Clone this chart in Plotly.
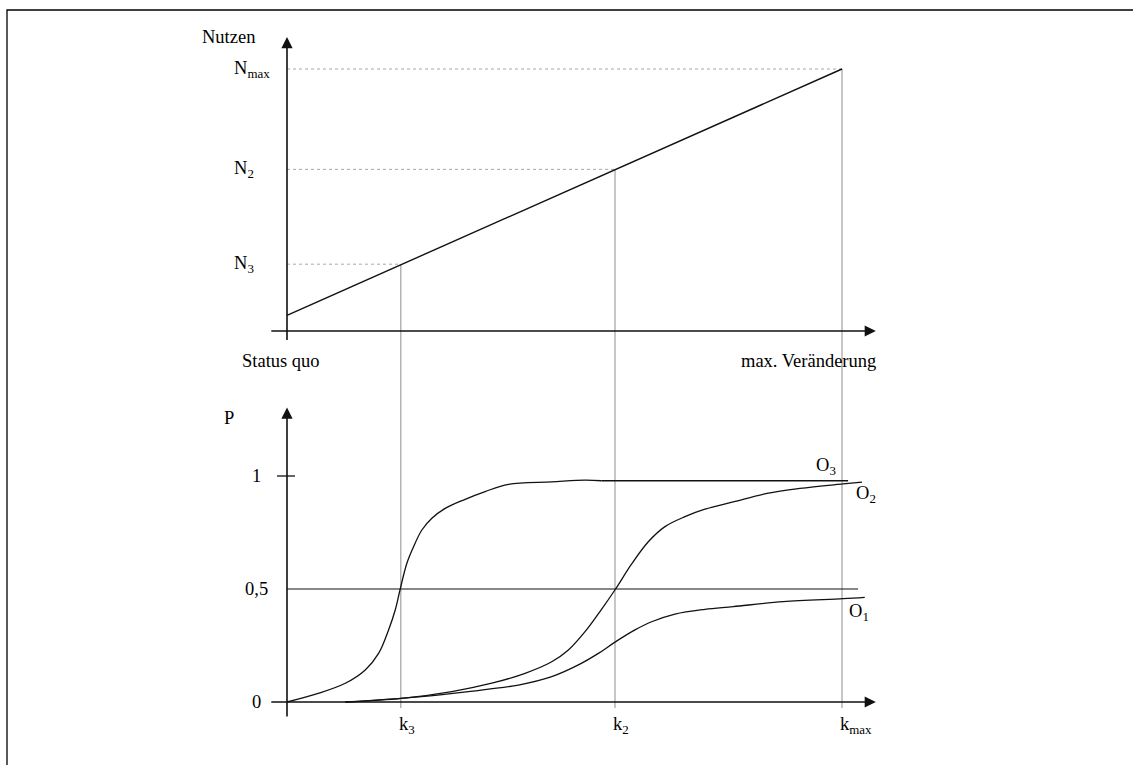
import plotly.graph_objects as go

# ---------------- data ----------------
# x axis: 0 = "Status quo", 1 = k_max ("max. Veränderung")
k_names = ["k<sub>3</sub>", "k<sub>2</sub>", "k<sub>max</sub>"]
k_values = [0.205, 0.591, 1.0]

# upper panel: Nutzen (utility), N_max = 1
n_names = ["N<sub>3</sub>", "N<sub>2</sub>", "N<sub>max</sub>"]
n_values = [0.255, 0.617, 1.0]
nutzen_x = [0.0, 1.0]
nutzen_y = [0.06, 1.0]

# lower panel: probability P
p_ticks = [0, 0.5, 1]
p_tick_labels = ["0", "0,5", "1"]
half_line_x = [0.0, 1.029]
half_line_y = [0.5, 0.5]

o3_x = [0.0, 0.056, 0.105, 0.141, 0.165, 0.183, 0.195, 0.204, 0.216, 0.228,
        0.243, 0.261, 0.285, 0.321, 0.357, 0.399, 0.477, 0.537, 0.567]
o3_y = [0.0, 0.038, 0.083, 0.142, 0.215, 0.319, 0.407, 0.5, 0.614, 0.687,
        0.761, 0.813, 0.857, 0.897, 0.931, 0.963, 0.974, 0.982, 0.979]
o3_flat_x = [0.567, 1.011]
o3_flat_y = [0.979, 0.979]

o2_x = [0.105, 0.207, 0.297, 0.369, 0.429, 0.477, 0.507, 0.537, 0.567, 0.592,
        0.621, 0.651, 0.681, 0.717, 0.753, 0.804, 0.865, 0.924, 1.002, 1.036]
o2_y = [0.0, 0.016, 0.046, 0.083, 0.127, 0.178, 0.23, 0.311, 0.411, 0.5,
        0.611, 0.709, 0.776, 0.82, 0.853, 0.885, 0.923, 0.945, 0.965, 0.973]

o1_x = [0.105, 0.237, 0.327, 0.417, 0.477, 0.525, 0.561, 0.591, 0.627, 0.657,
        0.699, 0.753, 0.804, 0.894, 1.002, 1.041]
o1_y = [0.0, 0.023, 0.046, 0.075, 0.112, 0.164, 0.215, 0.265, 0.319, 0.355,
        0.389, 0.41, 0.422, 0.444, 0.457, 0.463]

o_names = ["O<sub>3</sub>", "O<sub>2</sub>", "O<sub>1</sub>"]

# ---------------- layout calibration ----------------
W, H = 1133, 765
X0_PX, X_UNIT = 287, 555        # x = 0 at pixel 287, one unit = 555 px
N0_PX, N_UNIT = 331, 262        # upper panel
P0_PX, P_UNIT = 702, 226        # lower panel

x_range = [(0 - X0_PX) / X_UNIT, (W - X0_PX) / X_UNIT]
y_range = [(N0_PX - H) / N_UNIT, N0_PX / N_UNIT]
y2_range = [(P0_PX - H) / P_UNIT, P0_PX / P_UNIT]


def p_to_n(p):
    px = P0_PX - p * P_UNIT
    return (N0_PX - px) / N_UNIT


FONT = "Liberation Serif, Times New Roman, serif"
FS = 18.5
BLACK = "#111111"
GUIDE = "#a8a8a8"

fig = go.Figure()

# upper panel line
fig.add_trace(go.Scatter(x=nutzen_x, y=nutzen_y, mode="lines", yaxis="y",
                         line=dict(color=BLACK, width=1.4), hoverinfo="skip"))

# lower panel curves
for xs, ys in [(o3_x, o3_y), (o2_x, o2_y), (o1_x, o1_y)]:
    fig.add_trace(go.Scatter(x=xs, y=ys, mode="lines", yaxis="y2",
                             line=dict(color=BLACK, width=1.3, shape="spline",
                                       smoothing=1.0),
                             hoverinfo="skip"))
fig.add_trace(go.Scatter(x=o3_flat_x, y=o3_flat_y, mode="lines", yaxis="y2",
                         line=dict(color=BLACK, width=1.3), hoverinfo="skip"))
fig.add_trace(go.Scatter(x=half_line_x, y=half_line_y, mode="lines", yaxis="y2",
                         line=dict(color=BLACK, width=1.2), hoverinfo="skip"))

shapes = []
annotations = []

# guide lines
for k, n in zip(k_values, n_values):
    shapes.append(dict(type="line", xref="x", yref="y", x0=0, x1=k, y0=n, y1=n,
                       line=dict(color=GUIDE, width=1, dash="dot"), layer="below"))
    shapes.append(dict(type="line", xref="x", yref="y", x0=k, x1=k, y0=n,
                       y1=p_to_n(-0.027),
                       line=dict(color=GUIDE, width=1.3), layer="below"))

# tick at P = 1
shapes.append(dict(type="line", xref="x", yref="y2", x0=-0.018, x1=0.0144, y0=1, y1=1,
                   line=dict(color=BLACK, width=1.3)))

# outer frame (cut off at the right and bottom)
shapes.append(dict(type="rect", xref="paper", yref="paper",
                   x0=7 / W, x1=1.05, y0=-0.05, y1=1 - 10 / H,
                   line=dict(color="black", width=1.3)))


# axes with arrowheads
def axis_arrow(x, y, ax, ay, yref):
    annotations.append(dict(x=x, y=y, ax=ax, ay=ay, xref="x", yref=yref,
                            axref="x", ayref=yref, text="", showarrow=True,
                            arrowhead=2, arrowsize=1.4, arrowwidth=1.6,
                            arrowcolor=BLACK, standoff=0, startstandoff=0))


axis_arrow(1.061, 0, -0.031, 0, "y")
axis_arrow(0, 1.122, 0, -0.04, "y")
axis_arrow(1.061, 0, -0.031, 0, "y2")
axis_arrow(0, 1.303, 0, -0.071, "y2")


def label(text, x, y, yref, xanchor="center", xshift=0, yshift=0):
    annotations.append(dict(text=text, x=x, y=y, xref="x", yref=yref,
                            showarrow=False, xanchor=xanchor, yanchor="middle",
                            xshift=xshift, yshift=yshift,
                            font=dict(family=FONT, size=FS, color="black")))


label("Nutzen", 0, 1.122, "y", xshift=-59)
for name, n in zip(n_names, n_values):
    label(name, 0, n, "y", xanchor="left", xshift=-55)
label("Status quo", 0, 0, "y", xshift=-6, yshift=-30)
label("max. Veränderung", 0.939, 0, "y", yshift=-30)

label("P", 0, 1.257, "y2", xshift=-58)
for name, p in zip(p_tick_labels, p_ticks):
    label(name, 0, p, "y2", xshift=-31)
for name, k in zip(k_names, k_values):
    label(name, k, 0, "y2", xanchor="left", xshift=-4, yshift=-23)

label(o_names[0], 0.971, 1.044, "y2")
label(o_names[1], 1.043, 0.916, "y2")
label(o_names[2], 1.031, 0.398, "y2")

fig.update_layout(
    width=W, height=H, autosize=False,
    margin=dict(l=0, r=0, t=0, b=0),
    paper_bgcolor="white", plot_bgcolor="white",
    showlegend=False,
    xaxis=dict(range=x_range, visible=False, fixedrange=True),
    yaxis=dict(range=y_range, visible=False, fixedrange=True, domain=[0, 1]),
    yaxis2=dict(range=y2_range, visible=False, fixedrange=True, overlaying="y",
                domain=[0, 1]),
    shapes=shapes,
    annotations=annotations,
)

fig.write_html("out.html", config={"displayModeBar": False},
               post_script="document.body.style.margin='0';")
